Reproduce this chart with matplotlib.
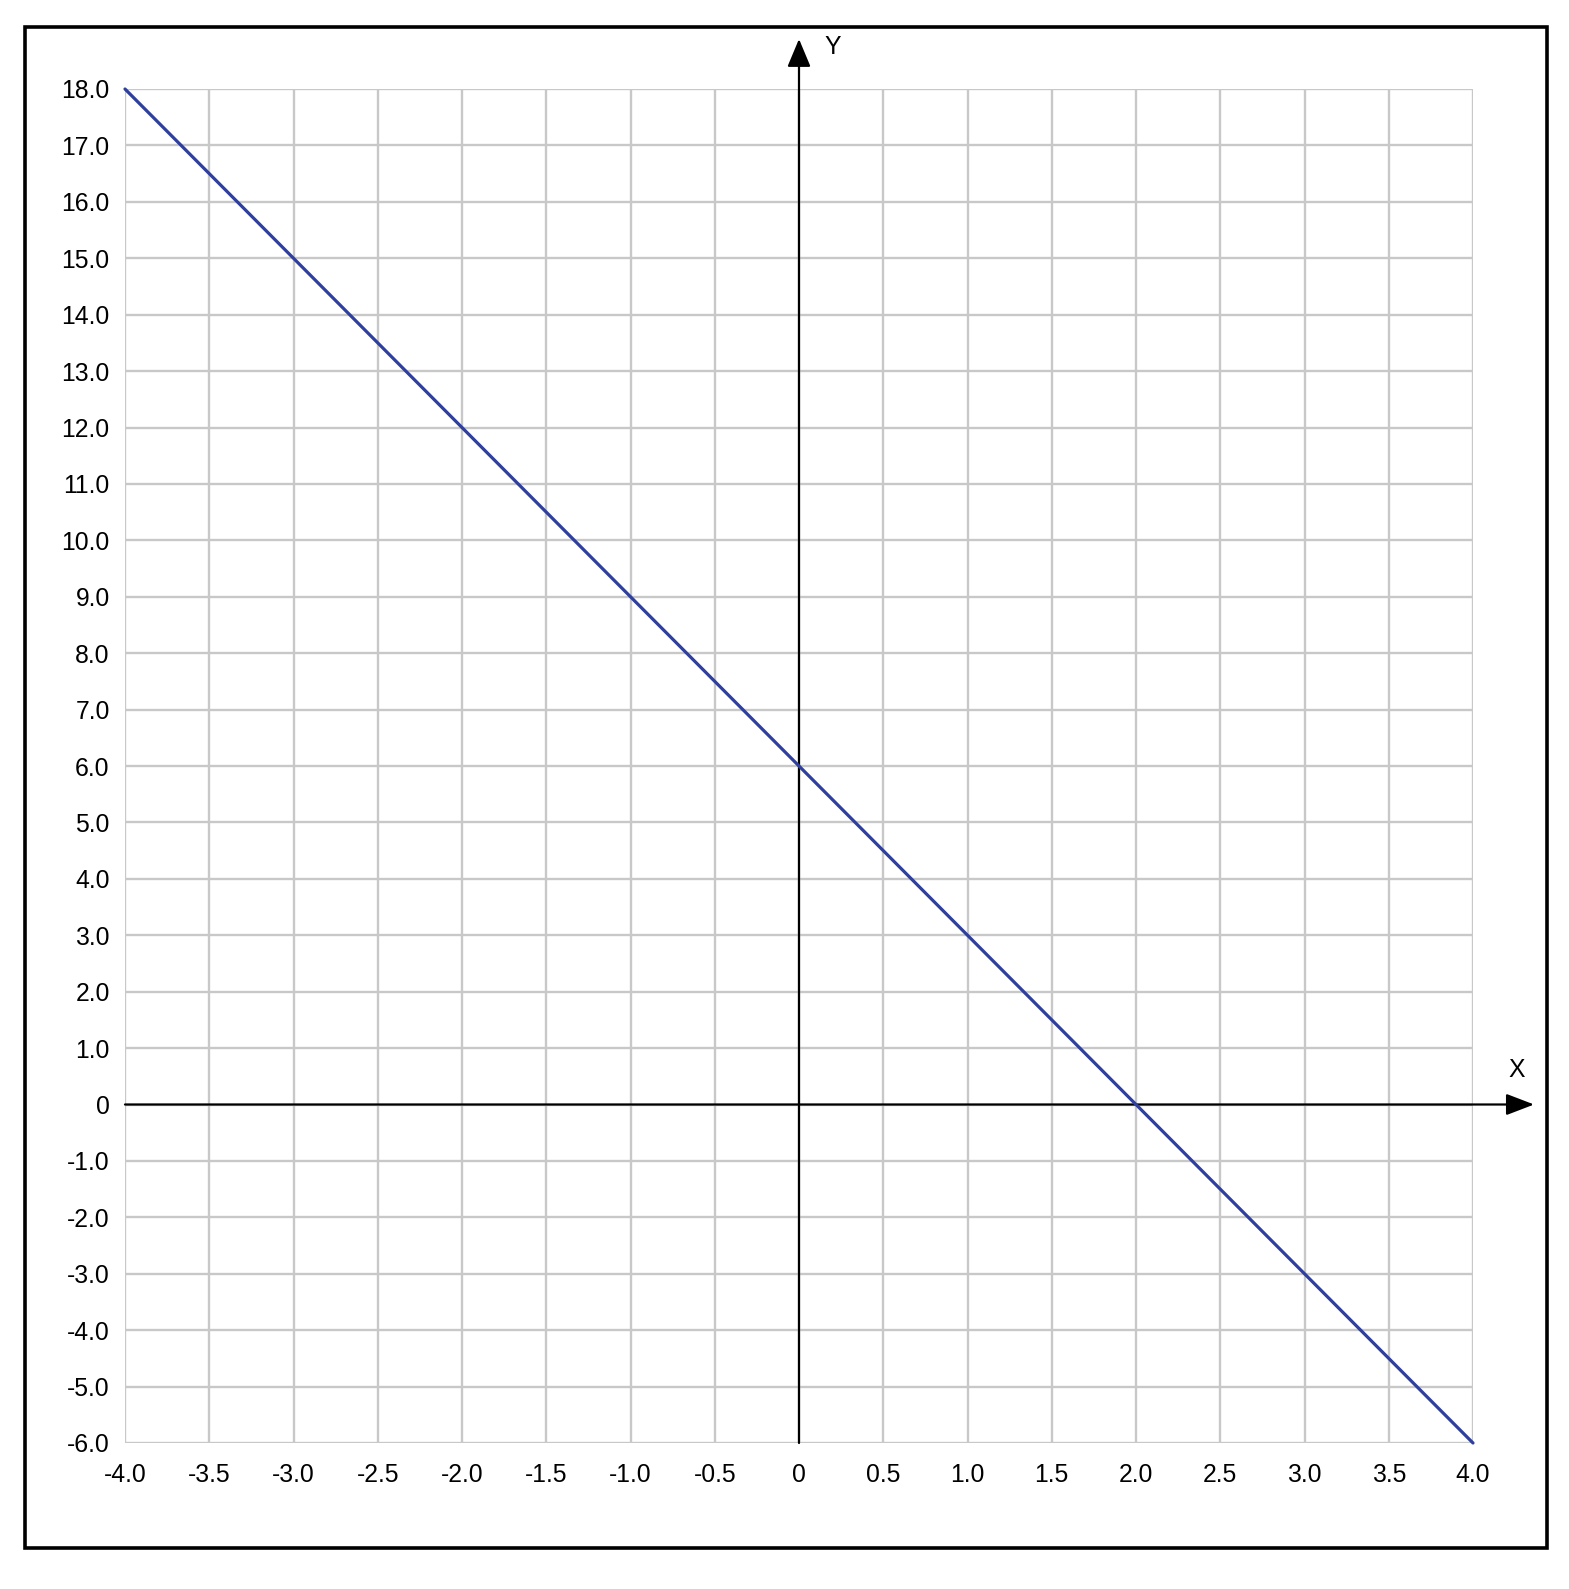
import matplotlib
matplotlib.use("Agg")
import matplotlib.pyplot as plt
from matplotlib.patches import Rectangle
import matplotlib.transforms as mtransforms

# Data
x_vals = [-4.0, 4.0]
y_vals = [18.0, -6.0]   # y = -3x + 6
x_ticks = [-4.0, -3.5, -3.0, -2.5, -2.0, -1.5, -1.0, -0.5, 0, 0.5, 1.0, 1.5, 2.0, 2.5, 3.0, 3.5, 4.0]
y_ticks = list(range(-6, 19))

def fmt(v):
    return "0" if v == 0 else f"{v:.1f}"

W, H = 1569, 1589
DPI = 100
plt.rcParams['font.family'] = ['Liberation Sans', 'DejaVu Sans']
fig = plt.figure(figsize=(W / DPI, H / DPI), dpi=DPI)
fig.patch.set_facecolor('white')

# axes placement in pixels
ax_l, ax_r, ax_t, ax_b = 125, 1473, 89, 1443
ax = fig.add_axes([ax_l / W, 1 - ax_b / H, (ax_r - ax_l) / W, (ax_b - ax_t) / H])
ax.set_xlim(-4, 4)
ax.set_ylim(-6, 18)
for s in ax.spines.values():
    s.set_visible(False)

ax.set_xticks(x_ticks)
ax.set_xticklabels([fmt(v) for v in x_ticks])
ax.set_yticks(y_ticks)
ax.set_yticklabels([fmt(float(v)) for v in y_ticks])
ax.tick_params(length=0, labelsize=17.8, colors='black')
ax.tick_params(axis='x', pad=14.5)
ax.tick_params(axis='y', pad=11)
ax.grid(True, color='#c8c8c8', linewidth=1.7, zorder=0)
ax.set_axisbelow(True)

# axis arrows
bx = mtransforms.blended_transform_factory(ax.transData, ax.transAxes)
by = mtransforms.blended_transform_factory(ax.transAxes, ax.transData)
arrow_kw = dict(arrowstyle='-|>,head_length=0.86,head_width=0.36', color='black',
                lw=1.6, shrinkA=0, shrinkB=0, mutation_scale=20)
ax.annotate('', xy=(0, 1.0369), xytext=(0, 0), xycoords=bx, textcoords=bx,
            arrowprops=arrow_kw, annotation_clip=False, zorder=3)
ax.annotate('', xy=(1.0453, 0), xytext=(0, 0), xycoords=by, textcoords=by,
            arrowprops=dict(arrow_kw, arrowstyle='-|>,head_length=0.86,head_width=0.33'),
            annotation_clip=False, zorder=3)
fig.text(833 / W, 1 - 47 / H, 'Y', fontsize=17.8, ha='center', va='center', color='black')
fig.text(1517 / W, 1 - 1070 / H, 'X', fontsize=17.8, ha='center', va='center', color='black')

# data line
ax.plot(x_vals, y_vals, color='#2E3F9E', linewidth=2.3, solid_capstyle='round',
        zorder=4, clip_on=False)

# outer border
fig.patches.append(Rectangle((25 / W, 1 - 1548 / H), (1546.5 - 25) / W, (1548 - 26.7) / H,
                             transform=fig.transFigure, fill=False, edgecolor='black',
                             linewidth=2.6))

fig.savefig('out.png', dpi=DPI, facecolor='white')
